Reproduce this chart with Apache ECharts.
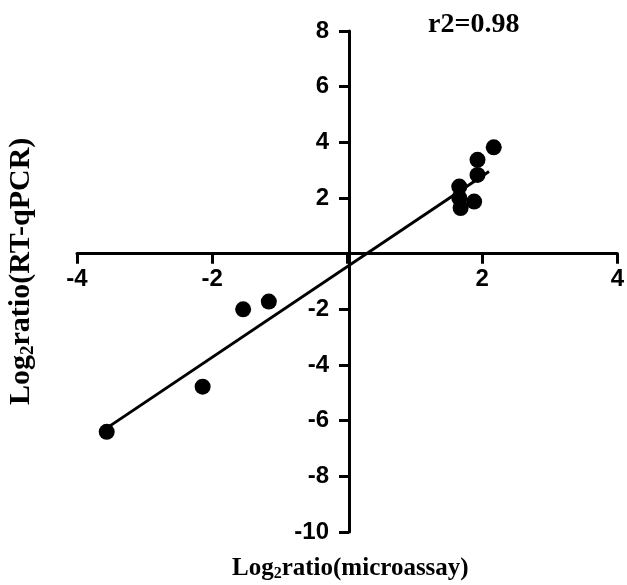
<!DOCTYPE html>
<html>
<head>
<meta charset="utf-8">
<script src="https://cdn.jsdelivr.net/npm/echarts@6/dist/echarts.min.js"></script>
<style>
  html, body { margin: 0; padding: 0; background: #fff; }
  #chart { width: 627px; height: 585px; }
</style>
</head>
<body>
<div id="chart"></div>
<script>
// microarray vs RT-qPCR log2 ratios
const microarray = [-3.56, -2.14, -1.54, -1.16, 1.66, 1.66, 1.68, 1.88, 1.93, 1.93, 2.17]
const qpcr = [-6.4, -4.78, -2.0, -1.72, 2.41, 2.0, 1.64, 1.87, 2.83, 3.37, 3.82]

// fitted line end points
const fitX = [-3.55, 2.1]
const fitY = [-6.25, 2.95]

const r2Label = 'r2=0.98'

const points = microarray.map((x, i) => [x, qpcr[i]])
const fitLine = fitX.map((x, i) => [x, fitY[i]])

const chart = echarts.init(document.getElementById('chart'))

// grid box, axes are shifted onto the zero lines with offset
const gridLeft = 77, gridRight = 6, gridTop = 31, gridBottom = 53
const gridW = 627 - gridLeft - gridRight
const gridH = 585 - gridTop - gridBottom
const xOffset = -gridH * (10 / 18)   // x axis moves up to y = 0
const yOffset = -gridW * (4 / 8)     // y axis moves right to x = 0

const tickFont = {
  color: '#000',
  fontFamily: 'Liberation Sans',
  fontWeight: 'bold',
  fontSize: 24,
}

const serifRich = (size) => ({
  a: { fontFamily: 'Liberation Serif', fontWeight: 'bold', fontSize: size, fill: '#000' },
  s: { fontFamily: 'Liberation Serif', fontWeight: 'bold', fontSize: Math.round(size * 0.64), fill: '#000', padding: [Math.round(size * 0.45), 0, 0, 0] },
})

const option = {
  animation: false,
  grid: {
    left: gridLeft,
    right: gridRight,
    top: gridTop,
    bottom: gridBottom,
  },
  title: {
    text: r2Label,
    left: 423,
    top: 6,
    textStyle: {
      fontFamily: 'Liberation Serif',
      fontWeight: 'bold',
      fontSize: 28,
      color: '#000',
    },
  },
  xAxis: {
    type: 'value',
    min: -4,
    max: 4,
    interval: 2,
    offset: xOffset,
    splitLine: { show: false },
    axisLine: { onZero: false, lineStyle: { color: '#000', width: 3 } },
    axisTick: { length: 10, lineStyle: { color: '#000', width: 3 } },
    axisLabel: {
      ...tickFont,
      margin: 14,
      formatter: (v) => (v === 0 ? '' : v),
    },
  },
  yAxis: {
    type: 'value',
    min: -10,
    max: 8,
    interval: 2,
    offset: yOffset,
    splitLine: { show: false },
    axisLine: { onZero: false, lineStyle: { color: '#000', width: 3 } },
    axisTick: { length: 10, lineStyle: { color: '#000', width: 3 } },
    axisLabel: {
      ...tickFont,
      margin: 20,
      formatter: (v) => (v === 0 ? '' : v),
    },
  },
  graphic: [
    {
      type: 'text',
      left: 232,
      top: 556,
      style: {
        text: '{a|Log}{s|2}{a|ratio(microassay)}',
        rich: serifRich(25),
      },
    },
    {
      type: 'text',
      x: 5,
      y: 405,
      rotation: Math.PI / 2,
      style: {
        text: '{a|Log}{s|2}{a|ratio(RT-qPCR)}',
        rich: serifRich(30),
      },
    },
  ],
  series: [
    {
      name: 'fit',
      type: 'line',
      data: fitLine,
      symbol: 'none',
      lineStyle: { color: '#000', width: 3 },
      z: 2,
    },
    {
      name: 'genes',
      type: 'scatter',
      data: points,
      symbol: 'circle',
      symbolSize: 16,
      itemStyle: { color: '#000', opacity: 1 },
      z: 3,
    },
  ],
}

chart.setOption(option)
</script>
</body>
</html>
